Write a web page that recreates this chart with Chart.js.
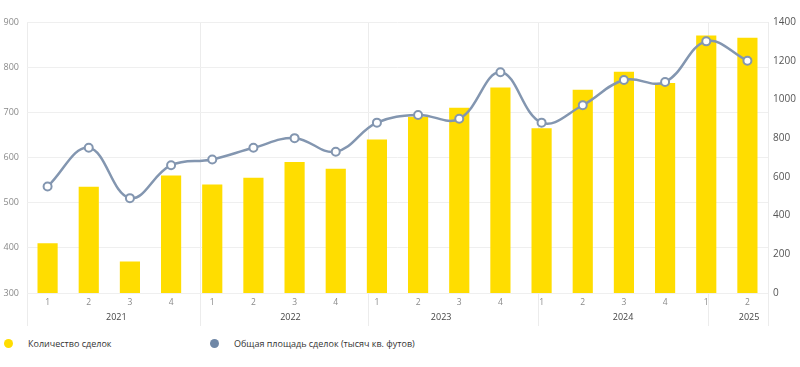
<!DOCTYPE html>
<html>
<head>
<meta charset="utf-8">
<script src="https://cdn.jsdelivr.net/npm/chart.js@4"></script>
<style>
    body { margin: 0; background: #fff; font-family: 'Open Sans', sans-serif; }
    #wrap { position: relative; width: 800px; height: 367px; }
    #legend { position: absolute; left: 0; top: 336px; width: 800px; height: 20px; font-size: 9px; color: #333; }
    .item { position: absolute; top: 0; height: 16px; line-height: 16px; }
    .dot { position: absolute; top: 3px; width: 9px; height: 9px; border-radius: 50%; }
</style>
</head>
<body>
<div id="wrap">
    <canvas id="deals" width="800" height="335"></canvas>
    <div id="legend">
        <div class="dot" style="left:4px; background:#ffdd00"></div>
        <div class="item" style="left:28px">Количество сделок</div>
        <div class="dot" style="left:210px; background:#6f87a6"></div>
        <div class="item" style="left:234px">Общая площадь сделок (тысяч кв. футов)</div>
    </div>
</div>
<script>
//-----DATOS
const quarters = ['1', '2', '3', '4', '1', '2', '3', '4', '1', '2', '3', '4', '1', '2', '3', '4', '1', '2']
const dealsCount = [410, 535, 370, 560, 540, 555, 590, 575, 640, 690, 710, 755, 665, 750, 790, 765, 870, 865]
const dealsArea = [550, 750, 490, 660, 690, 750, 800, 730, 880, 920, 900, 1140, 880, 970, 1100, 1090, 1300, 1200]

//Años (en unidades de trimestre, como en la imagen)
const years = ['2021', '2022', '2023', '2024', '2025']
const yearLabelAt = [1.67, 5.9, 9.56, 13.98, 17.04]
const yearLines = [-0.5, 3.71, 7.79, 11.92, 16.05, 17.5]

//Ticks del eje de etiquetas
function buildLabelTicks(scale) {
    let ticks = []
    quarters.forEach((q, i) => ticks.push({ value: i, kind: 'q', text: q }))
    years.forEach((y, i) => ticks.push({ value: yearLabelAt[i], kind: 'y', text: y }))
    yearLines.forEach(v => ticks.push({ value: v, kind: 'line', text: '' }))
    ticks.sort((a, b) => a.value - b.value)
    scale.ticks = ticks
}

const ctx = document.getElementById('deals')

const data = {
    labels: quarters,
    datasets: [{
        type: 'line',
        label: 'Общая площадь сделок (тысяч кв. футов)',
        data: dealsArea,
        yAxisID: 'y2',
        borderColor: '#8396b0',
        borderWidth: 2.5,
        pointRadius: 4,
        pointBorderWidth: 2,
        pointBackgroundColor: '#ffffff',
        pointBorderColor: '#8396b0',
        tension: 0.4,
        order: 0
    }, {
        type: 'bar',
        label: 'Количество сделок',
        data: dealsCount,
        yAxisID: 'y',
        backgroundColor: '#ffdd00',
        barPercentage: 0.49,
        categoryPercentage: 1,
        order: 1
    }]
}

const config = {
    data: data,
    options: {
        responsive: false,
        animation: false,
        layout: { padding: { top: 22, bottom: 11, left: 0, right: 0 } },
        plugins: {
            legend: { display: false },
            tooltip: { enabled: false }
        },
        scales: {
            x: {
                display: false,
                offset: true
            },
            xl: {
                type: 'linear',
                position: 'bottom',
                min: -0.5,
                max: 17.5,
                afterBuildTicks: buildLabelTicks,
                afterFit: s => { s.height = 31 },
                border: { display: false },
                grid: {
                    color: c => (c.tick && c.tick.kind === 'line') ? '#ececec' : 'rgba(0,0,0,0)',
                    tickLength: 33,
                    lineWidth: 1
                },
                ticks: {
                    autoSkip: false,
                    maxRotation: 0,
                    padding: -30,
                    callback: function (value, index, ticks) {
                        const t = ticks[index]
                        if (t.kind === 'q') return t.text
                        if (t.kind === 'y') return ['', t.text]
                        return ''
                    },
                    color: c => (c.tick && c.tick.kind === 'y') ? '#444444' : '#8a8a8a',
                    font: c => (c.tick && c.tick.kind === 'y')
                        ? { family: 'Open Sans', size: 9, lineHeight: '14px' }
                        : { family: 'Open Sans', size: 8.5, lineHeight: '14px' }
                }
            },
            y: {
                position: 'left',
                min: 300,
                max: 900,
                afterFit: s => { s.width = 27 },
                border: { display: false },
                grid: { color: '#efefef', drawTicks: false },
                ticks: {
                    stepSize: 100,
                    padding: 8,
                    color: '#8a8a8a',
                    font: { family: 'Open Sans', size: 9 }
                }
            },
            y2: {
                position: 'right',
                min: 0,
                max: 1400,
                afterFit: s => { s.width = 32 },
                border: { display: false },
                grid: { drawOnChartArea: false, drawTicks: false },
                ticks: {
                    stepSize: 200,
                    padding: 5,
                    color: '#555555',
                    font: { family: 'Open Sans', size: 10 },
                    callback: v => v
                }
            }
        }
    }
}

const graph = new Chart(ctx, config)
</script>
</body>
</html>
